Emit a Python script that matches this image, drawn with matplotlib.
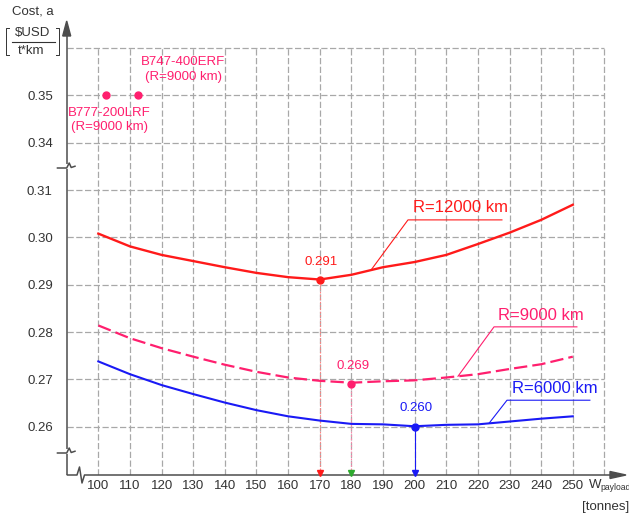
import numpy as np
import matplotlib
matplotlib.use("Agg")
import matplotlib.pyplot as plt
import matplotlib.transforms as mtransforms
from matplotlib.patches import Polygon

plt.rcParams["font.family"] = ["Liberation Sans", "DejaVu Sans"]

# --- data ---
payload = [100, 110, 120, 130, 140, 150, 160, 170, 180, 190, 200, 210, 220, 230, 240, 250]
cost_r12000 = [0.3008, 0.2981, 0.2963, 0.2950, 0.2937, 0.2925, 0.2916, 0.2911,
               0.2921, 0.2937, 0.2948, 0.2963, 0.2986, 0.3010, 0.3037, 0.3069]
cost_r9000 = [0.2814, 0.2787, 0.2766, 0.2748, 0.2731, 0.2716, 0.2704, 0.2697,
              0.2693, 0.2696, 0.2698, 0.2704, 0.2711, 0.2722, 0.2732, 0.2748]
cost_r6000 = [0.2738, 0.2711, 0.2688, 0.2669, 0.2651, 0.2635, 0.2622, 0.2613,
              0.2606, 0.2605, 0.2601, 0.2604, 0.2605, 0.2611, 0.2617, 0.2622]
range_labels = ["R=12000 km", "R=9000 km", "R=6000 km"]

optimum_payload = [170, 180, 200]
optimum_cost = [0.291, 0.269, 0.260]

aircraft_names = ["B777-200LRF", "B747-400ERF"]
aircraft_payload = [102.5, 112.6]
aircraft_cost = [0.35, 0.35]
aircraft_range = "(R=9000 km)"

x_ticks = [100, 110, 120, 130, 140, 150, 160, 170, 180, 190, 200, 210, 220, 230, 240, 250, 260]
y_ticks = [0.26, 0.27, 0.28, 0.29, 0.30, 0.31, 0.34, 0.35, 0.36]

W, H, DPI = 629, 515, 100
RED = "#FF1A1A"
PINK = "#FF1F6E"
BLUE = "#1A1AF5"
GRID = "#A8A8A8"
AXIS = "#4D4D4D"
TEXT = "#333333"


# broken y axis: squeeze the empty 0.31..0.34 band
def fwd(v):
    v = np.asarray(v, dtype=float)
    return np.where(v <= 0.31, v, np.where(v >= 0.34, v - 0.02, 0.31 + (v - 0.31) / 3))


def inv(t):
    t = np.asarray(t, dtype=float)
    return np.where(t <= 0.31, t, np.where(t >= 0.32, t + 0.02, 0.31 + (t - 0.31) * 3))


fig = plt.figure(figsize=(W / DPI, H / DPI), dpi=DPI)
ax = fig.add_axes([66.7 / W, 1 - 475 / H, (623.4 - 66.7) / W, 452 / H])
ax.set_yscale("function", functions=(fwd, inv))
ax.set_xlim(90, 266)
ax.set_ylim(0.2498, 0.3653)
for s in ax.spines.values():
    s.set_visible(False)

# pixel coordinates (origin top-left) for the hand drawn axis decorations
pix = mtransforms.Affine2D().scale(1, -1).translate(0, H).scale(1 / DPI) + fig.dpi_scale_trans

# grid
ax.hlines(y_ticks, 90, 260, colors=GRID, linewidth=0.9, linestyles=(0, (5, 2)), zorder=1)
ax.vlines(x_ticks, 0.2498, 0.36, colors=GRID, linewidth=0.9, linestyles=(0, (5, 2)), zorder=1)

ax.set_xticks(x_ticks, [str(t) if t <= 250 else "" for t in x_ticks])
ax.set_yticks(y_ticks, [f"{t:.2f}" if t < 0.36 else "" for t in y_ticks])
ax.tick_params(length=0, labelsize=9.5, colors=TEXT)
ax.tick_params(axis="y", pad=10)
ax.tick_params(axis="x", pad=3.5)

# curves
ax.plot(payload, cost_r12000, color=RED, lw=1.7, zorder=3)
ax.plot(payload, cost_r9000, color=PINK, lw=1.6, ls=(0, (6, 2.3)), zorder=3)
ax.plot(payload, cost_r6000, color=BLUE, lw=1.5, zorder=3)

# optimum points with drop lines to the axis
opt_colors = [RED, PINK, BLUE]
drop_colors = ["#FF8080", "#FF85AA", BLUE]
drop_styles = [(0, (1.5, 1.5)), (0, (1.5, 1.5)), "solid"]
head_colors = [RED, "#2EAA2E", BLUE]
for x, c, col, dcol, dls, hcol in zip(optimum_payload, optimum_cost, opt_colors,
                                      drop_colors, drop_styles, head_colors):
    ax.vlines(x, 0.2502, c, colors=dcol, linewidth=0.8, linestyles=dls, zorder=2)
    ax.plot(x, 0.2503, marker="v", ms=4, color=hcol, clip_on=False, zorder=4)
    ax.plot(x, c, "o", ms=5, color=col, zorder=4)
    ax.annotate(f"{c:.3f}", (x, c), xytext=(1, 13.3), textcoords="offset points",
                ha="center", va="center", color=col, fontsize=9.5)

# range labels with leader lines
curves = [cost_r12000, cost_r9000, cost_r6000]
leaders = [(186.2, 197.9, 227.6, 0.3037, 214.6, 0.3063),
           (213.7, 225.1, 251.3, 0.2811, 239.9, 0.2836),
           (223.5, 229.2, 255.4, 0.2656, 244.4, 0.2681)]
for lab, curve, col, (ax0, ex, x1, ly, tx, ty) in zip(range_labels, curves, opt_colors, leaders):
    ay = np.interp(ax0, payload, curve)
    ax.plot([ax0, ex, x1], [ay, ly, ly], color=col, lw=0.8, zorder=3)
    ax.text(tx, ty, lab, color=col, fontsize=12, ha="center", va="center")

# reference aircraft
ax.plot(aircraft_payload, aircraft_cost, "o", ms=5, color=PINK, zorder=4)
ax.annotate(aircraft_names[0] + "\n" + aircraft_range, (aircraft_payload[0], aircraft_cost[0]),
            xytext=(2.2, -17.6), textcoords="offset points", ha="center", va="center",
            color=PINK, fontsize=9.5, linespacing=1.3)
ax.annotate(aircraft_names[1] + "\n" + aircraft_range, (aircraft_payload[1], aircraft_cost[1]),
            xytext=(32.4, 18.5), textcoords="offset points", ha="center", va="center",
            color=PINK, fontsize=9.5, linespacing=1.3)

# axis lines with breaks and arrows
yx = 66.7
lk = dict(color=AXIS, lw=1.1, transform=pix, clip_on=False, solid_capstyle="butt")
ax.plot([yx, yx], [475, 453.5], **lk)
ax.plot([yx, yx], [448.5, 168.5], **lk)
ax.plot([yx, yx], [163.5, 35], **lk)
for yc in (451, 166):
    ax.plot([yx - 10, yx, yx + 2.5, yx + 4.5, yx + 9],
            [yc + 2, yc + 2, yc - 3, yc + 1.5, yc], **lk)
ax.plot([yx, 77, 79.5, 82, 84.5, 611], [475, 475, 467, 483, 475, 475], **lk)
ax.add_patch(Polygon([[yx, 21], [yx - 4, 36], [yx + 4, 36]], closed=True, color=AXIS,
                     transform=pix, clip_on=False))
ax.add_patch(Polygon([[626, 475], [610, 471.5], [610, 478.5]], closed=True, color=AXIS,
                     transform=pix, clip_on=False))

# axis titles
ax.text(32.5, 12, "Cost, a", transform=pix, ha="center", va="center", fontsize=9.5, color=TEXT)
ax.text(33, 33, r"\$USD", transform=pix, ha="center", va="center", fontsize=9.5, color=TEXT)
ax.text(31, 50.5, "t*km", transform=pix, ha="center", va="center", fontsize=9.5, color=TEXT)
ax.plot([12, 55], [42, 42], color=TEXT, lw=0.8, transform=pix, clip_on=False)
ax.plot([9, 6, 6, 9], [28, 28, 55, 55], color=TEXT, lw=0.7, transform=pix, clip_on=False)
ax.plot([56, 59, 59, 56], [28, 28, 55, 55], color=TEXT, lw=0.7, transform=pix, clip_on=False)

ax.text(589, 485, "W", transform=pix, ha="left", va="center", fontsize=9.5, color=TEXT)
ax.text(600, 488, "payload", transform=pix, ha="left", va="center", fontsize=6.2, color=TEXT)
ax.text(582, 507, "[tonnes]", transform=pix, ha="left", va="center", fontsize=9.5, color=TEXT)

fig.savefig("out.png", dpi=DPI, facecolor="white")
